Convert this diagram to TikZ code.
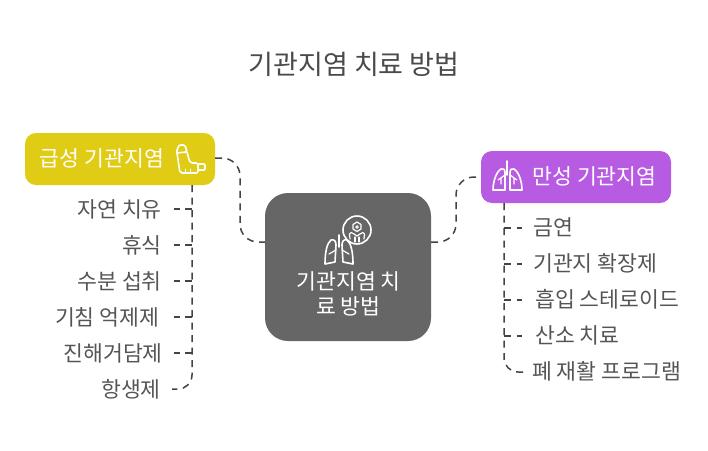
\documentclass[tikz,border=0pt]{standalone}
\usepackage{fontspec}
\setmainfont{Noto Sans CJK KR}
\definecolor{titlegray}{HTML}{4A4A4A}
\definecolor{itemgray}{HTML}{555555}
\definecolor{linkgray}{HTML}{444444}
\definecolor{centergray}{HTML}{666666}
\definecolor{acuteyellow}{HTML}{E0CB15}
\definecolor{chronicpurple}{HTML}{B85BE3}
\tikzset{
	x=1pt, y=-1pt,
	box/.style={inner sep=0pt, text=white},
	item/.style={text=itemgray, font=\fontsize{21.6}{21.6}\selectfont, inner sep=0pt},
	link/.style={draw=linkgray, line width=1.5pt, dash pattern=on 7pt off 5.5pt},
	icon/.style={draw=white, line width=1.6pt, line cap=round, line join=round},
}
\begin{document}
\begin{tikzpicture}
	\useasboundingbox (0, 0) rectangle (708, 450);

	\node[text=titlegray, font=\fontsize{27}{27}\selectfont] (title) at (354, 64.5) {기관지염 치료 방법};

	% main boxes
	\fill[centergray, rounded corners=23pt] (265, 193) rectangle (431, 341);
	\node[box, font=\fontsize{21.6}{25}\selectfont, align=center] (center) at (348.5, 293.5) {기관지염 치\\료 방법};
	\fill[acuteyellow, rounded corners=11pt] (25, 133) rectangle (215, 185);
	\node[box, font=\fontsize{21.6}{21.6}\selectfont] (acute) at (102, 158.5) {급성 기관지염};
	\fill[chronicpurple, rounded corners=11pt] (481, 151) rectangle (671, 203);
	\node[box, font=\fontsize{21.6}{21.6}\selectfont] (chronic) at (594.5, 176.5) {만성 기관지염};

	% left items
	\foreach \name/\txt/\xr/\y in {a/자연 치유/162/209, b/휴식/162/245.5, c/수분 섭취/162/281.5, d/기침 억제제/159.5/317.5, e/진해거담제/163/353.5, f/항생제/161/389.5}
		\node[item, anchor=east] (\name) at (\xr, \y) {\txt};

	% right items
	\foreach \name/\txt/\xl/\y in {g/금연/533/227.5, h/기관지 확장제/533/263.5, i/흡입 스테로이드/535/299, j/산소 치료/535/335.5, k/폐 재활 프로그램/532/371.5}
		\node[item, anchor=west] (\name) at (\xl, \y) {\txt};

	% connectors
	\coordinate (acuteout) at (215, 158);
	\coordinate (centerleft) at (265, 242);
	\coordinate (centerright) at (431, 242);
	\coordinate (chronicout) at (481, 177);
	\draw[link] (acuteout) -- (222, 158) arc [start angle=-90, end angle=0, radius=18] -- (240, 224) arc [start angle=180, end angle=90, radius=18] -- (centerleft);
	\draw[link] (centerright) -- (438, 242) arc [start angle=90, end angle=0, radius=18] -- (456, 195) arc [start angle=180, end angle=270, radius=18] -- (chronicout);

	\coordinate (acutedown) at (192, 185);
	\foreach \y in {209, 245, 281, 317, 353}
		\draw[link] (192, \y) -- (174, \y);
	\draw[link] (acutedown) -- (192, 375) arc [start angle=0, end angle=90, radius=14] -- (172, 389);

	\coordinate (chronicdown) at (504, 203);
	\foreach \y in {228, 264, 300, 336}
		\draw[link] (504, \y) -- (522, \y);
	\draw[link] (chronicdown) -- (504, 358) arc [start angle=180, end angle=90, radius=14] -- (524, 372);

	% inhaler icon
	\draw[icon, rounded corners=1.5pt] (176, 153) -- (179, 145) -- (185, 145) -- (187, 152) -- cycle;
	\draw[icon, rounded corners=2pt] (177, 153) -- (180, 173) -- (198, 173) -- (198, 163) -- (190, 163) -- (187, 152);
	\draw[icon, rounded corners=1pt] (198, 164) -- (205, 164) -- (205, 170) -- (198, 170);
	\draw[icon, line width=1pt] (185, 169) -- (185, 173) (190, 169) -- (190, 173);

	% lungs icon, chronic box
	\draw[icon] (507, 161) -- (507, 175);
	\draw[icon] (505, 173) .. controls (505, 169) and (503, 168) .. (501, 169) .. controls (496, 172) and (493, 182) .. (493, 190) -- (505, 190) -- cycle;
	\draw[icon] (510, 173) .. controls (510, 169) and (512, 168) .. (514, 169) .. controls (519, 172) and (522, 182) .. (522, 190) -- (510, 190) -- cycle;
	\draw[icon, line width=1.2pt] (505, 175) -- (498, 180) (501, 178) -- (501, 184) (510, 175) -- (517, 180) (514, 178) -- (514, 184);

	% lungs icon, center box
	\draw[icon] (339, 235) -- (339, 247);
	\draw[icon] (336, 245) .. controls (336, 241) and (334, 239) .. (331, 240) .. controls (327, 243) and (325, 252) .. (325, 264) -- (335, 262) -- cycle;
	\draw[icon] (342, 245) .. controls (342, 241) and (344, 239) .. (347, 240) .. controls (351, 243) and (353, 252) .. (353, 264) -- (343, 262) -- cycle;
	\draw[icon, line width=1.2pt] (336, 250) -- (329, 254) (342, 250) -- (349, 254);
	% cell badge
	\draw[icon] (357, 230) circle [radius=14];
	\draw[icon, line width=1.2pt] (357, 222) -- (361, 224.5) -- (361, 229) -- (357, 231.5) -- (353, 229) -- (353, 224.5) -- cycle;
	\draw[icon, line width=1pt] (357, 227) circle [radius=1.3];
	\draw[icon, line width=1.2pt] (350, 239) -- (349.5, 234) .. controls (350, 232) and (352, 232) .. (354, 234) -- (357, 236) -- (360, 234) .. controls (362, 232) and (364, 232) .. (364.5, 234) -- (364, 239);
	\draw[icon, line width=1.2pt] (355, 242) -- (355, 237) (359, 242) -- (359, 237);
\end{tikzpicture}
\end{document}
